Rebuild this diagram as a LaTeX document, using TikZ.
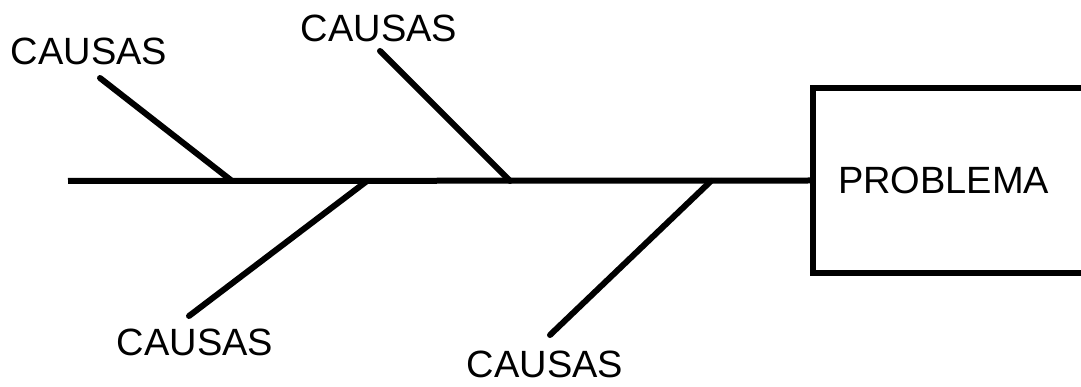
\documentclass[tikz,border=0pt]{standalone}
\usepackage{fontspec}
\setmainfont{Liberation Sans}
\usetikzlibrary{positioning}

\begin{document}
\begin{tikzpicture}[
    x=1pt, y=-1pt,
    causa/.style={font=\fontsize{38}{40}\selectfont, inner sep=0pt},
    caja/.style={
        rectangle, draw=black, line width=6pt, anchor=west,
        minimum height=185pt, text width=260pt, align=left,
        inner xsep=25pt, font=\fontsize{38}{40}\selectfont
    },
    espina/.style={line width=6pt, black, line cap=round}
]
\clip (0,0) rectangle (1081,387);
\useasboundingbox (0,0) rectangle (1081,387);

% Labels
\node[causa] (c1) at (89,51) {CAUSAS};
\node[causa] (c2) at (379,28) {CAUSAS};
\node[causa] (c3) at (195,342) {CAUSAS};
\node[causa] (c4) at (545,364) {CAUSAS};

% Problem box
\node[caja] (problema) at (810,180.5) {PROBLEMA};

% Spine points
\coordinate (cola) at (68,181);
\coordinate (p1) at (232,181);
\coordinate (p2) at (510,181);
\coordinate (p3) at (367,181);
\coordinate (p4) at (711,181);

% Branch tips
\coordinate (t1) at (100,78);
\coordinate (t2) at (380,51);
\coordinate (t3) at (189,316);
\coordinate (t4) at (550,335);

% Spine
\draw[espina, line cap=butt] (cola) -- (problema.west);

% Branches
\foreach \a/\b in {t1/p1, t2/p2, t3/p3, t4/p4} {
    \draw[espina] (\a) -- (\b);
}

\end{tikzpicture}
\end{document}
